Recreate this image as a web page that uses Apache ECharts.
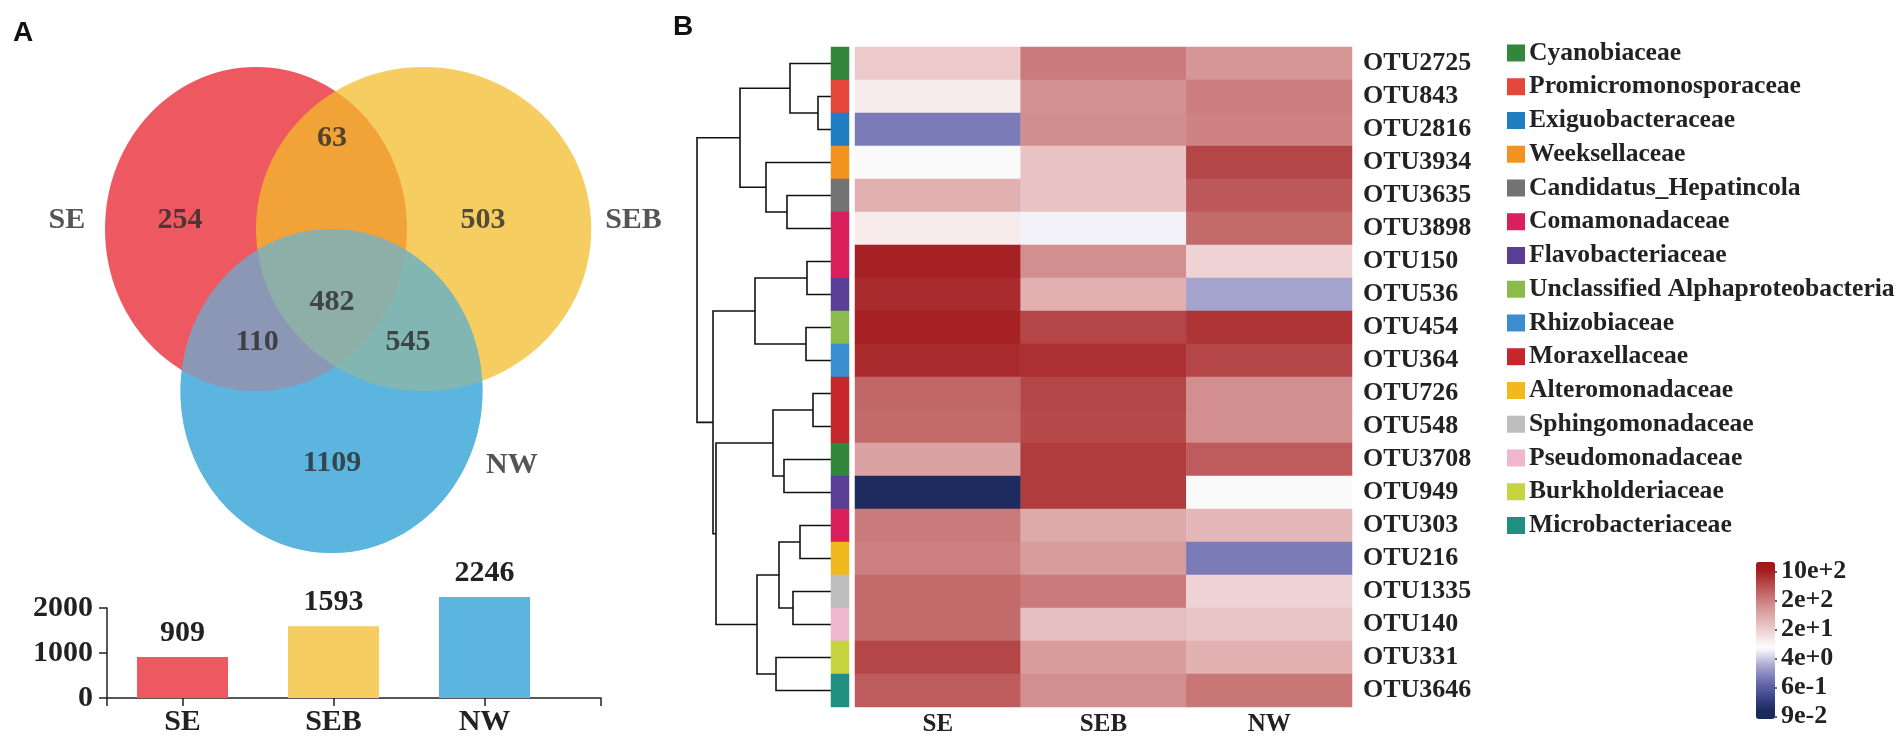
<!DOCTYPE html>
<html><head><meta charset="utf-8">
<script src="https://cdn.jsdelivr.net/npm/echarts@6/dist/echarts.min.js"></script>
<style>html,body{margin:0;padding:0;background:#fff}#c{width:1904px;height:737px}</style>
</head><body><div id="c"></div>
<script>
// ================= DATA =================
// Panel A: Venn
const vennSets = ['SE', 'SEB', 'NW'];
const vennRegionCounts = [254, 503, 1109, 63, 110, 545, 482]; // SE only, SEB only, NW only, SE∩SEB, SE∩NW, SEB∩NW, all
// Panel A: bar chart
const barCategories = ['SE', 'SEB', 'NW'];
const barValues = [909, 1593, 2246];
const barTicks = [0, 1000, 2000];
// Panel B: heatmap
const otus = ['OTU2725','OTU843','OTU2816','OTU3934','OTU3635','OTU3898','OTU150','OTU536','OTU454','OTU364',
              'OTU726','OTU548','OTU3708','OTU949','OTU303','OTU216','OTU1335','OTU140','OTU331','OTU3646'];
const samples = ['SE', 'SEB', 'NW'];
// colour-scale level (0 = 9e-2 ... 5 = 10e+2)
const levelSE  = [2.95,2.51,1.16,2.25,3.30,2.51,4.95,4.85,4.95,4.85,4.20,4.15,3.50,0.02,3.98,3.90,4.15,4.15,4.55,4.30];
const levelSEB = [3.97,3.70,3.75,3.05,3.05,2.15,3.73,3.30,4.55,4.80,4.55,4.50,4.65,4.65,3.40,3.58,3.98,3.10,3.58,3.72];
const levelNW  = [3.65,3.92,3.88,4.55,4.35,4.15,2.82,1.55,4.75,4.55,3.72,3.72,4.30,2.25,3.20,1.16,2.82,3.00,3.28,4.02];
const families = ['Cyanobiaceae','Promicromonosporaceae','Exiguobacteraceae','Weeksellaceae','Candidatus_Hepatincola',
                  'Comamonadaceae','Flavobacteriaceae','Unclassified Alphaproteobacteria','Rhizobiaceae','Moraxellaceae',
                  'Alteromonadaceae','Sphingomonadaceae','Pseudomonadaceae','Burkholderiaceae','Microbacteriaceae'];
const otuFamily = [0,1,2,3,4,5,5,6,7,8,9,9,0,6,5,10,11,12,13,14];
const colorbarTickLabels = ['9e-2','6e-1','4e+0','2e+1','2e+2','10e+2'];
// dendrogram merges: [node, child1, child2, height]
const dendroMerges = [
  ['A','OTU843','OTU2816',1.3], ['B','OTU2725','A',4.1], ['C','OTU3635','OTU3898',4.4], ['D','OTU3934','C',6.5],
  ['E','B','D',9.1], ['F','OTU150','OTU536',2.4], ['G','OTU454','OTU364',2.5], ['H','F','G',7.6],
  ['M','OTU726','OTU548',1.8], ['N','OTU3708','OTU949',4.7], ['K','M','N',5.8], ['O','OTU303','OTU216',3.1],
  ['P','OTU1335','OTU140',3.8], ['Q','O','P',5.2], ['R','OTU331','OTU3646',5.5], ['L','Q','R',7.4],
  ['J','K','L',11.5], ['I','H','J',11.8], ['root','E','I',13.4]
];

// ================= LAYOUT / STYLE =================
const serif = 'Liberation Serif';
const txt = '#222';
const vennLayout = { // centres & radii in circle-radius units
  SE: {c:[0,0], r:[1,1]}, SEB: {c:[1.11,0], r:[1.11,1]}, NW: {c:[0.5,1], r:[1,1]}
};
const regionLabelPos = [[-0.503,-0.056],[1.503,-0.056],[0.503,1.444],[0.503,-0.562],[0.007,0.698],[1.007,0.698],[0.503,0.451]];
const setLabelPos = [[-1.252,-0.056],[2.50,-0.056],[1.695,1.457]];
const setColors = {SE:'#EE5961', SEB:'#F6CD60', NW:'#5BB5DE'};
const familyColors = ['#33873C','#E5463A','#1F7DC1','#F2921F','#737373','#D91F5C','#5B3F96','#8BBB4B','#3A8ECF',
                      '#C5272D','#F2B91F','#BDBDBD','#EFB7CB','#C8D43F','#1F9080'];
const rampStops = [[-0.3,'#1B2A5E'],[0,'#1C2A5C'],[0.5,'#3F478B'],[1,'#6A6AAE'],[1.6,'#A8A8D0'],[2.25,'#FFFFFF'],
                   [3,'#EAC5C6'],[3.5,'#DBA2A3'],[4,'#C97878'],[4.5,'#B64A4B'],[5,'#A51D1F'],[5.3,'#A01519']];
function hex2rgb(h){return [1,3,5].map(i=>parseInt(h.substr(i,2),16));}
function rampAt(v){
  for(let i=0;i<rampStops.length-1;i++){
    const [a,ca]=rampStops[i],[b,cb]=rampStops[i+1];
    if(v>=a-1e-9&&v<=b+1e-9){const t=(v-a)/(b-a);const A=hex2rgb(ca),B=hex2rgb(cb);
      return 'rgb('+A.map((x,k)=>Math.round(x+(B[k]-x)*t)).join(',')+')';}
  }
  return rampStops[rampStops.length-1][1];
}
const rampColors=[];for(let k=0;k<=56;k++){rampColors.push(rampAt(-0.3+k*0.1));}

// ================= BUILD =================
const vennLayers = [
  {set:'NW', fill:setColors.NW, opacity:1},
  {set:'SE', fill:setColors.SE, opacity:1},
  {set:'SEB', fill:'rgb(243,188,43)', opacity:0.75},
  {set:'NW', fill:setColors.NW, opacity:0.67}
];
const vennData = vennLayers.map(l=>[vennLayout[l.set].c[0],vennLayout[l.set].c[1],vennLayout[l.set].r[0],vennLayout[l.set].r[1]]);
const regionLabelData = vennRegionCounts.map((v,i)=>({name:String(v), value:regionLabelPos[i]}));
const setLabelData = vennSets.map((s,i)=>({name:s, value:setLabelPos[i]}));

const heatData=[];
const levels=[levelSE, levelSEB, levelNW];
otus.forEach((o,i)=>{samples.forEach((s,j)=>{heatData.push([j,i,levels[j][i]]);});});
const stripData = otus.map((o,i)=>[0,i,otuFamily[i]]);

const nodes={};
otus.forEach((o,i)=>{nodes[o]={h:0,y:i};});
const dendroLines=[];
dendroMerges.forEach(([n,a,b,h])=>{
  const c1=nodes[a],c2=nodes[b];
  dendroLines.push({coords:[[c1.h,c1.y],[h,c1.y],[h,c2.y],[c2.h,c2.y]]});
  nodes[n]={h:h,y:(c1.y+c2.y)/2};
});
const maxH = dendroMerges[dendroMerges.length-1][3];

const hidden = {show:false};
const axisCol = '#222';
const option = {
  animation:false,
  backgroundColor:'#fff',
  title:[
    {text:'A', left:8, top:14, textStyle:{fontFamily:'Liberation Sans', fontWeight:'bold', fontSize:28, color:'#111'}},
    {text:'B', left:668, top:8, textStyle:{fontFamily:'Liberation Sans', fontWeight:'bold', fontSize:28, color:'#111'}}
  ],
  grid:[
    {left:14.4, top:34.6, width:604, height:486},           // 0 venn
    {left:107, top:608, width:453, height:90},              // 1 bars
    {left:697, top:47, width:134, height:660},              // 2 dendrogram
    {left:831, top:47, width:18, height:660},               // 3 strip
    {left:855, top:47, width:497, height:660},              // 4 heatmap
    {left:1516, top:36.1, width:300, height:506.25},        // 5 legend
    {left:1771, top:571.4, width:1, height:145},            // 6 colorbar axis
    {left:107, top:608, width:494, height:90}               // 7 bar x-axis line
  ],
  xAxis:[
    {gridIndex:0, type:'value', min:-1.6, max:2.4, show:false},
    {gridIndex:1, type:'category', data:barCategories,
      axisLine:{show:false},
      axisTick:{show:true, alignWithLabel:true, length:8, lineStyle:{color:axisCol, width:1.5}},
      axisLabel:{fontFamily:serif, fontWeight:'bold', fontSize:30, color:txt, margin:9}},
    {gridIndex:2, type:'value', min:0, max:maxH, inverse:true, show:false},
    {gridIndex:3, type:'category', data:['family'], show:false},
    {gridIndex:4, type:'category', data:samples, position:'bottom',
      axisLine:hidden, axisTick:hidden, splitLine:hidden,
      axisLabel:{fontFamily:serif, fontWeight:'bold', fontSize:25, color:txt, margin:5}},
    {gridIndex:5, type:'value', min:0, max:1, show:false},
    {gridIndex:6, type:'value', min:0, max:1, show:false},
    {gridIndex:7, type:'value', min:0, max:1, interval:1, splitLine:hidden,
      axisLine:{show:true, onZero:false, lineStyle:{color:axisCol, width:1.5}},
      axisTick:{show:true, length:8, lineStyle:{color:axisCol, width:1.5}},
      axisLabel:{show:false}}
  ],
  yAxis:[
    {gridIndex:0, type:'value', min:-1.2, max:1.8, inverse:true, show:false},
    {gridIndex:1, type:'value', min:barTicks[0], max:barTicks[barTicks.length-1], interval:barTicks[1]-barTicks[0],
      splitLine:hidden,
      axisLine:{show:true, lineStyle:{color:axisCol, width:1.5}},
      axisTick:{show:true, length:8, lineStyle:{color:axisCol, width:1.5}},
      axisLabel:{fontFamily:serif, fontWeight:'bold', fontSize:30, color:txt, margin:14, formatter:v=>String(v)}},
    {gridIndex:2, type:'value', min:-0.5, max:otus.length-0.5, inverse:true, show:false},
    {gridIndex:3, type:'category', data:otus, inverse:true, show:false},
    {gridIndex:4, type:'category', data:otus, inverse:true, position:'right',
      axisLine:hidden, axisTick:hidden, splitLine:hidden,
      axisLabel:{interval:0, fontFamily:serif, fontWeight:'bold', fontSize:26, color:txt, margin:11}},
    {gridIndex:5, type:'category', data:families, inverse:true, show:false},
    {gridIndex:6, type:'value', min:0, max:colorbarTickLabels.length-1, interval:1, position:'right',
      axisLine:hidden, splitLine:hidden,
      axisTick:{show:true, length:6, lineStyle:{color:'#333', width:1.5}},
      axisLabel:{fontFamily:serif, fontWeight:'bold', fontSize:26, color:txt, margin:9,
        formatter:v=>colorbarTickLabels[Math.round(v)]}},
    {gridIndex:7, type:'value', show:false}
  ],
  visualMap:[
    {type:'continuous', seriesIndex:5, dimension:2, min:-0.3, max:5.3, calculable:false,
      left:1741, top:547, itemWidth:19, itemHeight:157, text:null, showLabel:false,
      inRange:{color:rampColors}, textStyle:{color:'transparent'}},
    {type:'piecewise', seriesIndex:4, dimension:2, show:false,
      pieces:families.map((f,i)=>({value:i, color:familyColors[i]}))}
  ],
  series:[
    {type:'custom', xAxisIndex:0, yAxisIndex:0, silent:true, data:vennData,
      renderItem:function(params, api){
        const l=vennLayers[params.dataIndex];
        const c=api.coord([api.value(0),api.value(1)]);
        const s=api.size([api.value(2),api.value(3)]);
        return {type:'ellipse', shape:{cx:c[0], cy:c[1], rx:s[0], ry:s[1]}, style:{fill:l.fill, opacity:l.opacity}};
      }},
    {type:'scatter', xAxisIndex:0, yAxisIndex:0, silent:true, clip:false, symbolSize:0, data:regionLabelData.concat(setLabelData),
      label:{show:true, position:'inside', formatter:'{b}', fontFamily:serif, fontWeight:'bold', fontSize:30, color:'#2a2a2a'}},
    {type:'bar', xAxisIndex:1, yAxisIndex:1, silent:true, clip:false, barWidth:91,
      data:barValues.map((v,i)=>({value:v, itemStyle:{color:setColors[barCategories[i]]}})),
      label:{show:true, position:'top', distance:9, fontFamily:serif, fontWeight:'bold', fontSize:30, color:txt}},
    {type:'lines', coordinateSystem:'cartesian2d', xAxisIndex:2, yAxisIndex:2, polyline:true, silent:true,
      data:dendroLines, lineStyle:{color:'#111', width:1.6, opacity:1, curveness:0}},
    {type:'heatmap', xAxisIndex:3, yAxisIndex:3, silent:true, data:stripData, itemStyle:{borderWidth:0}},
    {type:'heatmap', xAxisIndex:4, yAxisIndex:4, silent:true, data:heatData, itemStyle:{borderWidth:0}},
    {type:'scatter', xAxisIndex:5, yAxisIndex:5, silent:true, symbol:'rect', symbolSize:[18,17],
      data:families.map((f,i)=>({name:f, value:[0,i], itemStyle:{color:familyColors[i], opacity:1}})),
      label:{show:true, position:'right', distance:4, formatter:'{b}', fontFamily:serif, fontWeight:'bold', fontSize:25.6, color:txt}}
  ]
};
const chart = echarts.init(document.getElementById('c'));
chart.setOption(option);
</script>
</body></html>
